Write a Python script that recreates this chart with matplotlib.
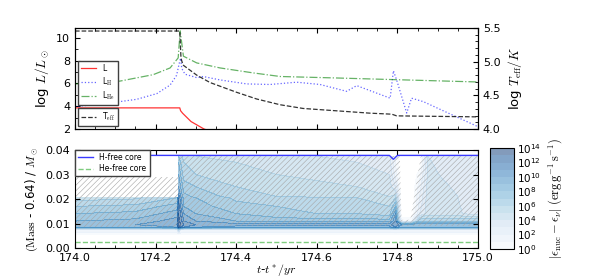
import numpy as np
import matplotlib
matplotlib.use('Agg')
import matplotlib.pyplot as plt
from matplotlib.ticker import MultipleLocator, FuncFormatter

plt.rcParams['font.size'] = 8
plt.rcParams['mathtext.fontset'] = 'cm'
plt.rcParams['xtick.direction'] = 'in'
plt.rcParams['ytick.direction'] = 'in'
plt.rcParams['hatch.linewidth'] = 0.4
plt.rcParams['legend.fancybox'] = False

# --- top panel: luminosities and Teff
l_t = [174.0, 174.26, 174.262, 174.267, 174.288, 174.32, 174.4]
l_tot = [3.85, 3.85, 3.6, 3.38, 2.65, 2.0, 1.0]

lh_t = [174.0, 174.07, 174.153, 174.203, 174.236, 174.252, 174.259, 174.262, 174.265,
        174.273, 174.302, 174.318, 174.36, 174.426, 174.484, 174.55, 174.608, 174.674,
        174.699, 174.782, 174.79, 174.798, 174.823, 174.835, 174.864, 175.0]
lh = [3.97, 4.2, 4.6, 5.1, 5.85, 6.7, 7.8, 8.2, 7.3,
      6.8, 6.5, 6.6, 6.3, 5.95, 5.9, 6.1, 5.9, 5.3,
      5.8, 4.7, 7.1, 6.3, 3.4, 4.7, 4.4, 2.2]

lhe_t = [174.0, 174.087, 174.112, 174.194, 174.236, 174.256, 174.261, 174.269, 174.302,
         174.36, 174.443, 174.509, 174.649, 174.798, 175.0]
lhe = [5.95, 6.1, 6.2, 6.76, 7.35, 8.23, 10.6, 8.38, 7.79,
       7.35, 6.91, 6.6, 6.47, 6.32, 6.12]

teff_t = [174.0, 174.26, 174.263, 174.268, 174.302, 174.335, 174.401, 174.451, 174.509,
          174.566, 174.649, 174.732, 174.786, 174.798, 175.0]
teff = [5.455, 5.455, 5.05, 4.95, 4.8, 4.69, 4.545, 4.445, 4.36,
        4.305, 4.27, 4.235, 4.22, 4.195, 4.18]

# --- bottom panel: Kippenhahn diagram
hfree_t = [174.0, 174.78, 174.79, 174.8, 175.0]
hfree_m = [0.0378, 0.0378, 0.0362, 0.0378, 0.0378]
hefree_t = [174.0, 175.0]
hefree_m = [0.0026, 0.0026]

# convective zones (hatched)
conv1_t = [174.0, 174.255]
conv1_bot = [0.0085, 0.0085]
conv1_top = [0.029, 0.029]
conv2_t = [174.257, 174.806, 174.81, 174.832, 174.845, 174.858, 175.0]
conv2_bot = [0.009, 0.009, 0.009, 0.009, 0.009, 0.009, 0.009]
conv2_top = [0.0375, 0.0375, 0.0115, 0.0115, 0.025, 0.0375, 0.0375]

# log10 |eps_nuc - eps_nu| on a coarse grid (nan = no data)
n = np.nan
t_grid = [174.0, 174.15, 174.253, 174.257, 174.262, 174.27, 174.3, 174.4, 174.5, 174.6,
          174.7, 174.78, 174.795, 174.81, 174.835, 174.855, 174.875, 174.93, 175.0]
m_grid = [0.0, 0.0055, 0.0075, 0.0085, 0.0095, 0.011, 0.014, 0.017, 0.0205, 0.021,
          0.025, 0.03, 0.035, 0.0375, 0.038]
eps_log = [
    [n] * 19,
    [0.5] * 19,
    [1.5, 1.5, 2, 5, 2, 1.5, 1.5, 1.5, 1.5, 1.5, 1.5, 1.5, 2, 1.5, 1.5, 1.5, 1.5, 1.5, 1.5],
    [9, 9, 10, 13, 12, 11, 10, 9.5, 9.5, 9.5, 9.5, 9.5, 11, 9, 9, 9, 9, 9, 9],
    [10, 10, 11, 14, 13, 12, 11, 10.5, 10.5, 10.5, 10.5, 10.5, 12, 10, 10, 10, 10, 10, 10],
    [9, 9.3, 10.5, 13.5, 12.5, 11, 10, 9, 8.5, 8.5, 8.5, 8.5, 11, 1, 1, 7, 7, 7, 7],
    [8, 8.3, 9.5, 13, 12, 10, 9, 8, 7.5, 7, 7, 6.5, 10, -1, -1, 3, 4.5, 4.4, 3.5],
    [7, 7.3, 8.5, 12.5, 11, 9, 8.5, 7.3, 7, 6.8, 6.8, 6, 8, -1, -1, 2.5, 4.5, 4.3, 3.5],
    [5.5, 5.8, 7, 12, 10.5, 8.5, 8, 6.8, 6.3, 6.2, 6, 5.5, 6, -1, -1, 2, 4.5, 4.2, 3.5],
    [n, n, n, 11.5, 10, 8.3, 7.8, 6.5, 6, 5.8, 5.5, 5, 5.5, -1, -1, 2, 4.5, 4.2, 3.5],
    [n, n, n, 10, 9, 7.5, 7, 6, 5.5, 5.2, 5, 4.5, 3, -1, -1, 1.5, 4.3, 4.0, 3.4],
    [n, n, n, 9, 8, 6.5, 6, 5.5, 5, 4.8, 4.5, 4, 1.5, -1, -1, 0.5, 4.2, 3.8, 3.3],
    [n, n, n, 8, 7, 6, 5.5, 5, 4.5, 4.3, 4, 3.5, 1, -1, -1, -1, 4.1, 3.6, 3.2],
    [n, n, n, 7, 6.5, 5.5, 5, 4.5, 4.2, 4, 3.8, 3.3, 1, -1, -1, -1, 4.0, 3.5, 3.2],
    [n] * 19,
]
levels = list(range(0, 15))
cbar_ticks = list(range(0, 15, 2))

fig = plt.figure(figsize=(5.98, 2.78), dpi=100)
ax1 = fig.add_axes([0.1254, 0.536, 0.674, 0.3633])
ax2 = fig.add_axes([0.1254, 0.1079, 0.674, 0.3525], sharex=ax1)
cax = fig.add_axes([0.8194, 0.1043, 0.040, 0.363])

# top panel
ax1.plot(l_t, l_tot, color='r', lw=0.9, alpha=0.8, label='L')
ax1.plot(lh_t, lh, color='b', ls=':', lw=0.9, alpha=0.6, label=r'L$_{\rm H}$')
ax1.plot(lhe_t, lhe, color='g', ls='-.', lw=0.9, alpha=0.6, label=r'L$_{\rm He}$')
ax1.set_ylim(2, 10.85)
ax1.set_ylabel(r'log $L/L_\odot$', fontsize=9.5)
ax1.yaxis.set_major_locator(MultipleLocator(2))
ax1.yaxis.set_minor_locator(MultipleLocator(1))
ax1.tick_params(labelbottom=False, top=True, which='both')
ax1.legend(loc='upper left', bbox_to_anchor=(0.007, 0.673), borderaxespad=0,
           fontsize=5.5, labelspacing=0.3, handlelength=2.0, borderpad=0.4,
           edgecolor='0.25', framealpha=1)

ax1t = ax1.twinx()
ax1t.plot(teff_t, teff, color='k', ls='--', lw=0.9, alpha=0.8, label=r'T$_{\rm eff}$')
ax1t.set_ylim(4.0, 5.5)
ax1t.yaxis.set_major_locator(MultipleLocator(0.5))
ax1t.yaxis.set_minor_locator(MultipleLocator(0.1))
ax1t.set_ylabel(r'log $T_{\rm eff}/K$', fontsize=9.5)
ax1t.tick_params(direction='in', which='both')
ax1t.legend(loc='lower left', bbox_to_anchor=(0.007, 0.03), borderaxespad=0,
            fontsize=5.5, handlelength=2.0, borderpad=0.4, edgecolor='0.25', framealpha=1)

# bottom panel
eps = np.ma.masked_invalid(np.array(eps_log))
cs = ax2.contourf(t_grid, m_grid, eps, levels=levels, cmap='Blues', alpha=0.5)
ax2.contour(t_grid, m_grid, eps, levels=levels, cmap='Blues', linewidths=0.35, alpha=0.25)
ax2.fill_between(conv1_t, conv1_bot, conv1_top, facecolor='none', edgecolor='0.65',
                 hatch='//////', linewidth=0)
ax2.fill_between(conv2_t, conv2_bot, conv2_top, facecolor='none', edgecolor='0.65',
                 hatch='//////', linewidth=0)
ax2.plot(hfree_t, hfree_m, color='#3a3aff', lw=1.0, label='H-free core')
ax2.plot(hefree_t, hefree_m, color='#7fcc7f', ls='--', lw=1.0, label='He-free core')
ax2.set_xlim(174.0, 175.0)
ax2.set_ylim(0.0, 0.04)
ax2.xaxis.set_major_locator(MultipleLocator(0.2))
ax2.xaxis.set_minor_locator(MultipleLocator(0.05))
ax2.yaxis.set_major_locator(MultipleLocator(0.01))
ax2.yaxis.set_major_formatter(FuncFormatter(lambda v, p: '%.2f' % v))
ax2.xaxis.set_major_formatter(FuncFormatter(lambda v, p: '%.1f' % v))
ax2.tick_params(top=True, right=True, which='both')
ax2.set_xlabel(r'$t$-$t^*/yr$', fontsize=8.5, labelpad=-0.5)
ax2.set_ylabel(r'$(\rm Mass$ - 0.64) / $M_\odot$', fontsize=8.5)
ax2.legend(loc='upper left', bbox_to_anchor=(0.0, 1.0), borderaxespad=0, fontsize=5.5,
           labelspacing=0.3, handlelength=2.0, borderpad=0.4, edgecolor='0.25', framealpha=1)

cb = fig.colorbar(cs, cax=cax, ticks=cbar_ticks)
cb.ax.yaxis.set_major_formatter(FuncFormatter(lambda v, p: r'$\mathdefault{10^{%d}}$' % v))
cb.ax.tick_params(labelsize=7.5, length=0, pad=2)
cb.set_label(r'$|\epsilon_{\rm nuc} - \epsilon_\nu|\ ({\rm erg\,g^{-1}\,s^{-1}})$', fontsize=9)

fig.savefig('out.png', dpi=100)
